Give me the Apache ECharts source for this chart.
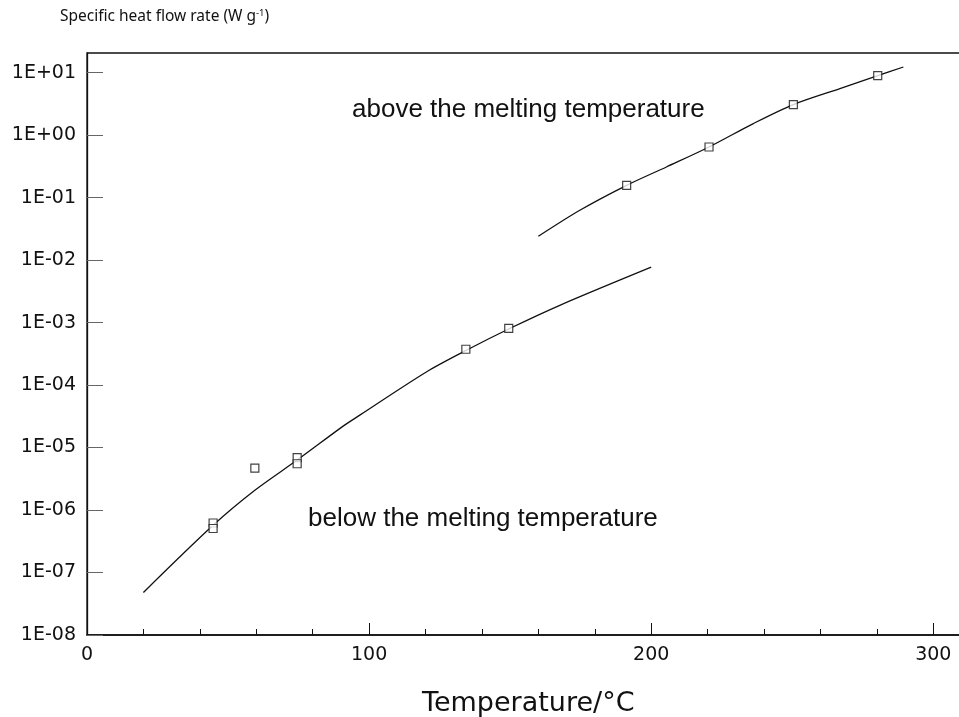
<!DOCTYPE html>
<html>
<head>
<meta charset="utf-8">
<script src="https://cdn.jsdelivr.net/npm/echarts@6/dist/echarts.min.js"></script>
<style>
  html, body { margin: 0; padding: 0; background: #fff; }
  #chart { width: 959px; height: 717px; }
</style>
</head>
<body>
<div id="chart"></div>
<script>
// Specific heat flow rate vs temperature (log scale)

// Fitted curve below the melting temperature: [T (°C), W/g]
const belowCurve = [
  [20, 4.8e-8], [44.7, 5.7e-7], [59.5, 2.07e-6], [74.5, 6.3e-6],
  [90.8, 2.2e-5], [96.7, 3.3e-5], [120.3, 1.62e-4], [135, 3.7e-4],
  [150, 8.1e-4], [167.6, 1.89e-3], [200, 7.7e-3]
];

// Fitted curve above the melting temperature
const aboveCurve = [
  [160, 0.024], [174.7, 0.0626], [191.3, 0.157], [205.4, 0.309],
  [220.5, 0.645], [236.2, 1.53], [250.4, 3.08], [266.9, 5.55],
  [280.3, 8.95], [289.4, 12.3]
];

// Measured points
const belowPoints = [
  [44.7, 6.2e-7], [44.7, 5.06e-7], [59.5, 4.7e-6], [74.5, 6.9e-6],
  [74.5, 5.5e-6], [134.3, 3.74e-4], [149.5, 8.1e-4]
];
const abovePoints = [
  [191.3, 0.157], [220.5, 0.645], [250.4, 3.08], [280.3, 8.95]
];

const xTicks = [0, 100, 200, 300];
const yMin = 1e-8;
const yMax = 20.6;

function expLabel(v) {
  const e = Math.round(Math.log10(v));
  const s = e < 0 ? '-' : '+';
  const a = Math.abs(e);
  return '1E' + s + (a < 10 ? '0' + a : '' + a);
}

const chart = echarts.init(document.getElementById('chart'), null, { renderer: 'canvas' });

const lineStyle = { color: '#111', width: 1.3 };
const squareStyle = { color: '#fff', borderColor: '#111', borderWidth: 1.2 };

chart.setOption({
  animation: false,
  backgroundColor: '#fff',
  title: {
    left: 60,
    top: 8,
    padding: 0,
    text: '{a|Specific heat flow rate (W g}{s|-1}{a|)}',
    textStyle: {
      fontWeight: 'normal',
      rich: {
        a: { fontFamily: 'Noto Sans', fontSize: 15.5, fontWeight: 'normal', color: '#111' },
        s: { fontFamily: 'Noto Sans', fontSize: 9.5, fontWeight: 'normal', color: '#111', verticalAlign: 'top', padding: [0, 0, 7, 0] }
      }
    }
  },
  grid: {
    left: 87,
    top: 53,
    width: 874.5,
    bottom: 82,
    outerBoundsMode: 'none',
    containLabel: false,
    show: true,
    borderColor: '#111',
    borderWidth: 1.3,
    backgroundColor: 'transparent'
  },
  xAxis: {
    type: 'value',
    min: 0,
    max: 310,
    interval: 100,
    name: 'Temperature/°C',
    nameLocation: 'middle',
    nameGap: 55,
    nameTextStyle: { fontFamily: 'DejaVu Sans', fontSize: 27, color: '#111', padding: [0, 0, 0, 8] },
    axisLine: { lineStyle: { color: '#111', width: 1.5 } },
    axisTick: { inside: true, length: 12, lineStyle: { color: '#111', width: 1 } },
    minorTick: { show: true, splitNumber: 5, length: 6, lineStyle: { color: '#111', width: 1 } },
    splitLine: { show: false },
    axisLabel: {
      margin: 11,
      showMaxLabel: false,
      fontFamily: 'DejaVu Sans',
      fontSize: 19,
      color: '#111',
      formatter: v => (xTicks.indexOf(v) >= 0 ? String(v) : '')
    }
  },
  yAxis: {
    type: 'log',
    logBase: 10,
    min: yMin,
    max: yMax,
    splitNumber: 9,
    axisLine: { show: true, lineStyle: { color: '#111', width: 1.3 } },
    axisTick: {
      show: true,
      inside: true,
      length: 16,
      interval: (i, v) => v > yMin * 1.01 && v < yMax * 0.99,
      lineStyle: { color: '#666', width: 1 }
    },
    splitLine: { show: false },
    axisLabel: {
      margin: 11,
      showMaxLabel: false,
      fontFamily: 'DejaVu Sans',
      fontSize: 19,
      color: '#111',
      formatter: v => expLabel(v)
    }
  },
  graphic: [
    {
      type: 'text', left: 352, top: 97,
      style: { text: 'above the melting temperature', font: '26px "Liberation Sans"', fill: '#111' }
    },
    {
      type: 'text', left: 308, top: 506,
      style: { text: 'below the melting temperature', font: '26px "Liberation Sans"', fill: '#111' }
    }
  ],
  series: [
    { type: 'line', data: belowCurve, smooth: 0.3, showSymbol: false, lineStyle: lineStyle, z: 2 },
    { type: 'line', data: aboveCurve, smooth: 0.3, showSymbol: false, lineStyle: lineStyle, z: 2 },
    { type: 'scatter', data: belowPoints, symbol: 'rect', symbolSize: 8, itemStyle: squareStyle, z: 3 },
    { type: 'scatter', data: abovePoints, symbol: 'rect', symbolSize: 8, itemStyle: squareStyle, z: 3 }
  ]
});
</script>
</body>
</html>
